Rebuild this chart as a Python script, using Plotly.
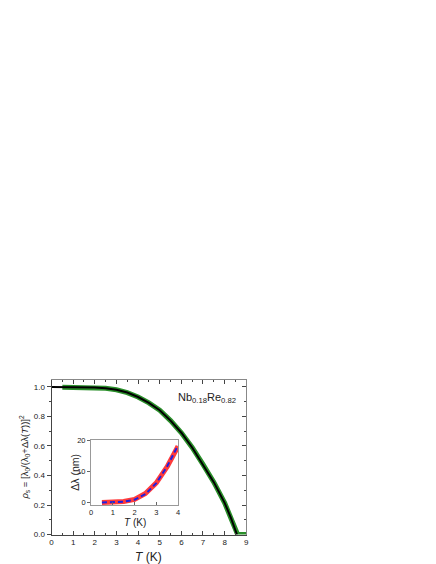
import plotly.graph_objects as go

# Main panel: superfluid density vs temperature
T_data = [0.5, 1.0, 1.5, 2.0, 2.5, 3.0, 3.5, 4.0, 4.5, 5.0, 5.5, 6.0, 6.5, 7.0, 7.5, 8.0, 8.3, 8.6, 8.8, 9.0]
rho_data = [0.998, 0.998, 0.997, 0.996, 0.991, 0.981, 0.962, 0.932, 0.892, 0.842, 0.772, 0.69, 0.59, 0.475, 0.355, 0.215, 0.11, 0.0, 0.0, 0.0]

T_fit = [0.0, 0.5, 1.0, 1.5, 2.0, 2.5, 3.0, 3.5, 4.0, 4.5, 5.0, 5.5, 6.0, 6.5, 7.0, 7.5, 8.0, 8.3, 8.57]
rho_fit = [1.0, 1.0, 1.0, 0.999, 0.997, 0.992, 0.981, 0.962, 0.932, 0.892, 0.842, 0.772, 0.69, 0.59, 0.475, 0.355, 0.215, 0.11, 0.0]

# Inset: penetration depth change
T_in = [0.5, 1.0, 1.5, 2.0, 2.5, 3.0, 3.5, 4.0]
dl_data = [0.0, 0.05, 0.3, 1.0, 2.9, 6.3, 11.5, 18.0]
dl_fit = [0.0, 0.04, 0.25, 0.9, 2.7, 6.2, 11.6, 18.3]

main_ticks_x = [0, 1, 2, 3, 4, 5, 6, 7, 8, 9]
main_ticks_y = [0.0, 0.2, 0.4, 0.6, 0.8, 1.0]
inset_ticks_x = [0, 1, 2, 3, 4]
inset_ticks_y = [0, 10, 20]

FONT = "Liberation Sans, Arial, sans-serif"
W, H = 436, 564
def px(x):
    return x / W
def py(y):
    return (H - y) / H

fig = go.Figure()
fig.add_trace(go.Scatter(x=T_data, y=rho_data, mode="lines",
                         line=dict(color="#2a8f2a", width=5), xaxis="x", yaxis="y", showlegend=False))
fig.add_trace(go.Scatter(x=T_fit, y=rho_fit, mode="lines",
                         line=dict(color="#000000", width=2), xaxis="x", yaxis="y", showlegend=False))
fig.add_trace(go.Scatter(x=T_in, y=dl_data, mode="lines",
                         line=dict(color="#ff3b3b", width=5), xaxis="x2", yaxis="y2", showlegend=False))
fig.add_trace(go.Scatter(x=T_in, y=dl_fit, mode="lines",
                         line=dict(color="#2020e0", width=2, dash="5px,3px"), xaxis="x2", yaxis="y2", showlegend=False))
fig.add_trace(go.Scatter(x=[None], y=[None], xaxis="x3", yaxis="y3", showlegend=False, hoverinfo="skip"))

axcol = "#444444"
fig.update_layout(
    width=W, height=H, margin=dict(l=0, r=0, t=0, b=0),
    paper_bgcolor="white", plot_bgcolor="white",
    font=dict(family=FONT, size=8, color="#222222"),
    xaxis=dict(domain=[px(42), px(239)], range=[0, 9], tickvals=main_ticks_x,
               ticks="inside", ticklen=4, tickcolor=axcol, showline=True, linecolor=axcol, linewidth=1,
               showgrid=False, zeroline=False, anchor="y", tickfont=dict(size=8),
               minor=dict(dtick=0.5, ticks="inside", ticklen=2, tickcolor=axcol)),
    yaxis=dict(domain=[py(531), py(374)], range=[0, 1.047], tickvals=main_ticks_y, tickformat=".1f",
               ticks="outside", ticklen=4, tickcolor=axcol, showline=True, linecolor=axcol, linewidth=1,
               showgrid=False, zeroline=False, anchor="x", tickfont=dict(size=8),
               minor=dict(dtick=0.1, ticks="outside", ticklen=2, tickcolor=axcol)),
    xaxis3=dict(overlaying="x", side="top", range=[0, 9], tickvals=main_ticks_x, showticklabels=False,
                ticks="inside", ticklen=4, tickcolor=axcol, showline=True, linecolor="#888888", linewidth=1,
                showgrid=False, zeroline=False, anchor="y",
                minor=dict(dtick=0.5, ticks="inside", ticklen=2, tickcolor=axcol)),
    yaxis3=dict(overlaying="y", side="right", range=[0, 1.047], tickvals=main_ticks_y, showticklabels=False,
                ticks="inside", ticklen=4, tickcolor=axcol, showline=True, linecolor="#888888", linewidth=1,
                showgrid=False, zeroline=False, anchor="x",
                minor=dict(dtick=0.1, ticks="inside", ticklen=2, tickcolor=axcol)),
    xaxis2=dict(domain=[px(82), px(170)], range=[0, 4], tickvals=inset_ticks_x,
                ticks="inside", ticklen=3, tickcolor="#666", showline=True, linecolor="#999", linewidth=1,
                mirror=True, showgrid=False, zeroline=False, anchor="y2", tickfont=dict(size=7.5)),
    yaxis2=dict(domain=[py(501), py(435)], range=[-0.8, 20], tickvals=inset_ticks_y,
                ticks="outside", ticklen=3, tickcolor="#666", showline=True, linecolor="#999", linewidth=1,
                mirror=True, showgrid=False, zeroline=False, anchor="x2", tickfont=dict(size=7.5)),
)

annos = [
    dict(x=px(140), y=py(554), text="<i>T</i> (K)", font=dict(size=12)),
    dict(x=px(15), y=py(452), text="<i>ρ</i><sub>s</sub> = [λ<sub>0</sub>/(λ<sub>0</sub>+Δλ(<i>T</i>))]<sup>2</sup>",
         textangle=-90, font=dict(size=9.5)),
    dict(x=px(199), y=py(392), text="Nb<sub>0.18</sub>Re<sub>0.82</sub>", font=dict(size=11)),
    dict(x=px(126), y=py(519), text="<i>T</i> (K)", font=dict(size=10)),
    dict(x=px(65), y=py(468), text="Δλ (nm)", textangle=-90, font=dict(size=10.5)),
]
for a in annos:
    fig.add_annotation(xref="paper", yref="paper", showarrow=False,
                       xanchor="center", yanchor="middle", **a)

fig.write_html("out.html")
